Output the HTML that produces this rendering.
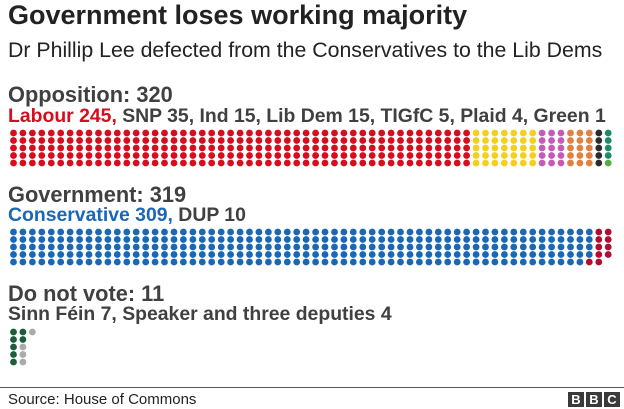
<!DOCTYPE html>
<html><head><meta charset="utf-8"><style>
body{margin:0;width:624px;height:409px;background:#fff;position:relative;overflow:hidden;font-family:"Liberation Sans",Arial,sans-serif;}
.t{position:absolute;left:8px;white-space:nowrap;}
</style></head><body>
<div class="t" style="top:0px;font-size:27px;font-weight:bold;color:#222">Government loses working majority</div>
<div class="t" style="top:38px;font-size:21.3px;color:#222">Dr Phillip Lee defected from the Conservatives to the Lib Dems</div>
<div class="t" style="top:82px;font-size:21.8px;font-weight:bold;color:#404040">Opposition: 320</div>
<div class="t" style="top:105px;font-size:19.4px;font-weight:bold;color:#404040"><span style="color:#d50d1f">Labour 245,</span> SNP 35, Ind 15, Lib Dem 15, TIGfC 5, Plaid 4, Green 1</div>
<div class="t" style="top:182px;font-size:21.8px;font-weight:bold;color:#404040">Government: 319</div>
<div class="t" style="top:204px;font-size:19.4px;font-weight:bold;color:#404040"><span style="color:#1a67b5">Conservative 309,</span> DUP 10</div>
<div class="t" style="top:281px;font-size:21.8px;font-weight:bold;color:#404040">Do not vote: 11</div>
<div class="t" style="top:303px;font-size:19.4px;font-weight:bold;color:#404040">Sinn Féin 7, Speaker and three deputies 4</div>
<div style="position:absolute;left:0;top:387px;width:624px;height:1px;background:#555"></div>
<div class="t" style="top:391px;font-size:15px;color:#222">Source: House of Commons</div>
<div style="position:absolute;left:568px;top:392px;display:flex;gap:2px">
<div style="width:16px;height:15px;background:#3a3a3a;color:#fff;font-weight:bold;font-size:13px;text-align:center;line-height:15px">B</div>
<div style="width:16px;height:15px;background:#3a3a3a;color:#fff;font-weight:bold;font-size:13px;text-align:center;line-height:15px">B</div>
<div style="width:16px;height:15px;background:#3a3a3a;color:#fff;font-weight:bold;font-size:13px;text-align:center;line-height:15px">C</div>
</div>
<svg id="s" width="624" height="409" style="position:absolute;left:0;top:0"></svg>
<script>
var s=document.getElementById('s'),h='';
function dots(y0,list){var i=0;list.forEach(function(p){for(var k=0;k<p[1];k++){var c=Math.floor(i/5),r=i%5;h+='<circle cx="'+(13.5+c*9.44).toFixed(1)+'" cy="'+(y0+r*7.5)+'" r="3.4" fill="'+p[0]+'"/>';i++;}});}
dots(133,[['#d50d1f',245],['#f4cf1e',35],['#c55bb8',15],['#e0813f',15],['#2b2b2b',5],['#1d8a6a',4],['#4fae3c',1]]);
dots(232,[['#1a67b5',309],['#b40c30',10]]);
dots(332,[['#1d5e3a',7],['#aaaaaa',4]]);
s.innerHTML=h;
</script>
</body></html>
